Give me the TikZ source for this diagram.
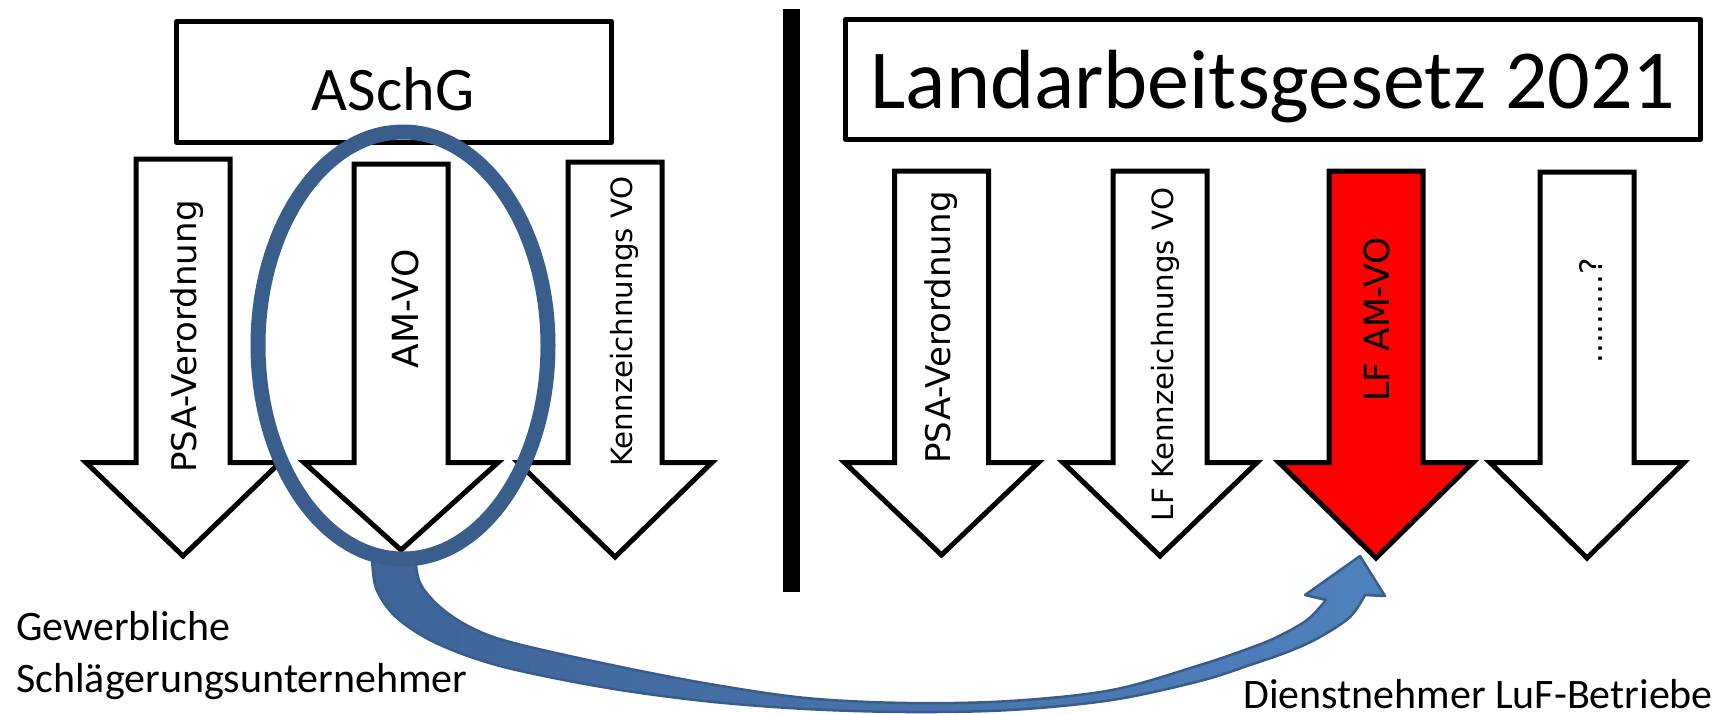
\documentclass[tikz,border=0pt]{standalone}
\usepackage{fontspec}
\setmainfont{Carlito}
\newfontfamily\arrfont{DejaVu Sans}
\definecolor{ringblue}{RGB}{58,94,140}
\definecolor{bandA}{RGB}{62,100,152}
\definecolor{bandB}{RGB}{79,129,189}
\definecolor{bandline}{RGB}{56,93,138}
\definecolor{arrred}{RGB}{255,0,0}
\tikzset{
  arrowline/.style={draw=black, line width=5pt, line join=miter, miter limit=10},
  boxline/.style={draw=black, line width=5pt, line join=round, inner sep=0pt},
  ringline/.style={draw=ringblue, line width=15pt},
  vlabel/.style={rotate=90, anchor=base, inner sep=0pt},
  lbl/.style={inner sep=0pt, anchor=base west},
}
% #1 centre x, #2 top y, #3 tip y, #4 fill colour
\newcommand{\BlkArrow}[4]{%
  \draw[arrowline, fill=#4] (#1-47,#2) -- (#1+47,#2) -- (#1+47,462.5) -- (#1+97,462.5)
     -- (#1,#3) -- (#1-97,462.5) -- (#1-47,462.5) -- cycle;}
\begin{document}
\begin{tikzpicture}[x=1pt,y=-1pt]
\useasboundingbox (0,0) rectangle (1721,713);
\fill[white] (0,0) rectangle (1721,713);

% header boxes
\node[boxline, minimum width=435pt, minimum height=121pt] (aschgbox) at (394,82) {};
\node[anchor=base, inner sep=0pt, font=\fontsize{62}{70}\selectfont] (aschg) at (393,110) {ASchG};
\node[boxline, minimum width=855pt, minimum height=120pt] (lagbox) at (1273,79.5) {};
\node[anchor=base, inner sep=0pt, font=\fontsize{84}{90}\selectfont] (lag) at (1273,108) {Landarbeitsgesetz 2021};

% divider
\fill[black] (783,9) rectangle (800,592);

% left block arrows
\BlkArrow{183}{159}{556}{white}
\BlkArrow{401}{164}{550}{white}
\BlkArrow{615}{162}{557}{white}
% right block arrows
\BlkArrow{941.5}{171}{555}{white}
\BlkArrow{1160}{171}{556}{white}
\BlkArrow{1376}{171}{558}{arrred}
\BlkArrow{1587}{172}{558}{white}

% arrow labels
\node[vlabel, font=\arrfont\fontsize{34}{40}\selectfont] (l1) at (196,336.5) {PSA-Verordnung};
\node[vlabel, font=\arrfont\fontsize{36}{40}\selectfont] (l2) at (418,309) {AM-VO};
\node[vlabel, font=\arrfont\fontsize{29.3}{34}\selectfont] (l3) at (632,321.5) {Kennzeichnungs VO};
\node[vlabel, font=\arrfont\fontsize{34}{40}\selectfont] (r1) at (950,327.5) {PSA-Verordnung};
\node[vlabel, font=\arrfont\fontsize{29.3}{34}\selectfont] (r2) at (1173,354.5) {LF Kennzeichnungs VO};
\node[vlabel, font=\arrfont\fontsize{34.6}{40}\selectfont] (r3) at (1389,319.5) {LF AM-VO};
\node[vlabel, font=\arrfont\fontsize{31}{36}\selectfont] (r4) at (1602,311) {.........?};

% curved transfer arrow
\draw[bandline, line width=2.5pt, line join=round, left color=bandA, right color=bandB]
  plot[smooth, tension=0.55] coordinates {(372,555) (376,588) (396,617) (436,643) (500,666)
     (602,687) (704,701) (806,709) (908,712) (1010,710) (1112,700) (1200,681) (1250,665)
     (1290,651) (1320,637) (1350,617) (1365,595)}
  -- (1385,596) -- (1360,556) -- (1305,595) -- (1326,600)
  -- plot[smooth, tension=0.55] coordinates {(1326,600) (1307,620) (1277,637) (1250,648)
     (1200,665) (1112,690) (1010,701) (908,703) (806,698) (704,683) (602,663) (510,642)
     (470,627) (440,607) (420,583) (415,555)}
  -- cycle;

% ring
\draw[ringline] (403,345.5) ellipse [x radius=145pt, y radius=213.5pt];

% bottom labels
\node[lbl, font=\fontsize{42}{52}\selectfont] (gew) at (16,640) {Gewerbliche};
\node[lbl, font=\fontsize{42}{52}\selectfont] (schl) at (16,692) {Schlägerungsunternehmer};
\node[lbl, font=\fontsize{42}{52}\selectfont] (dn) at (1243,708) {Dienstnehmer LuF-Betriebe};
\end{tikzpicture}
\end{document}
